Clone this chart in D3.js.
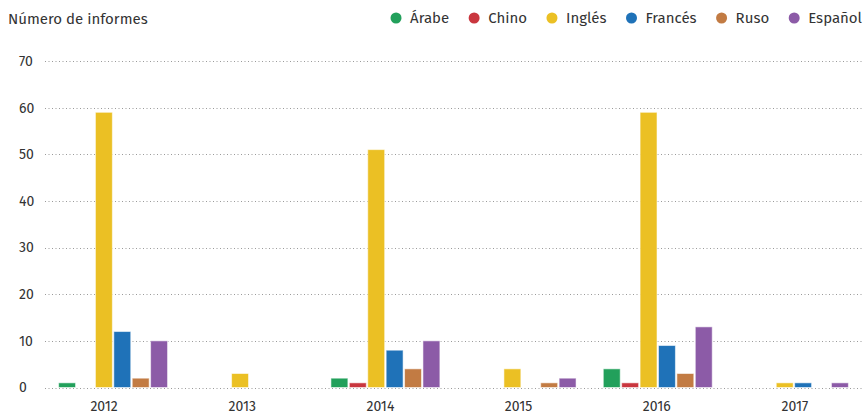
<!DOCTYPE html>
<html>
<head>
<meta charset="utf-8">
<title>Número de informes</title>
<script src="https://cdn.jsdelivr.net/npm/d3@7"></script>
<style>
  body { margin: 0; background: #fff; }
  text { font-family: "Fira Sans", "Open Sans", sans-serif; fill: #333; }
</style>
</head>
<body>
<div id="chart"></div>
<script>
  // data
  var years = ["2012", "2013", "2014", "2015", "2016", "2017"];
  var languages = ["Árabe", "Chino", "Inglés", "Francés", "Ruso", "Español"];
  var colors = ["#22a05b", "#c9363e", "#ebc024", "#1f72b8", "#c27b43", "#8c5ba7"];
  var arabe   = [1, 0, 2, 0, 4, 0];
  var chino   = [0, 0, 1, 0, 1, 0];
  var ingles  = [59, 3, 51, 4, 59, 1];
  var frances = [12, 0, 8, 0, 9, 1];
  var ruso    = [2, 0, 4, 1, 3, 0];
  var espanol = [10, 0, 10, 2, 13, 1];
  var yTicks = [0, 10, 20, 30, 40, 50, 60, 70];

  var series = [arabe, chino, ingles, frances, ruso, espanol];

  var width = 864, height = 414;

  var svg = d3.select("#chart")
    .append("svg")
      .attr("width", width)
      .attr("height", height);

  // scales
  var y = d3.scaleLinear()
    .domain([0, 70])
    .range([387.5, 61]);

  var x0 = d3.scaleBand()
    .domain(years)
    .range([45, 862])
    .paddingInner(0.2)
    .paddingOuter(0.1);

  var x1 = d3.scaleBand()
    .domain(languages)
    .range([0, x0.bandwidth()])
    .paddingInner(0.08);

  // year labels sit on their own slightly wider band
  var xLab = d3.scaleBand()
    .domain(years)
    .range([35, 864]);

  // grid lines
  svg.append("g")
    .selectAll("line")
    .data(yTicks)
    .enter()
    .append("line")
      .attr("x1", 45)
      .attr("x2", width)
      .attr("y1", function(d) { return Math.round(y(d)) + 0.5; })
      .attr("y2", function(d) { return Math.round(y(d)) + 0.5; })
      .style("stroke", "#9a9a9a")
      .style("stroke-width", 1)
      .style("stroke-dasharray", "1,2.5");

  // y labels
  svg.append("g")
    .selectAll("text")
    .data(yTicks)
    .enter()
    .append("text")
      .attr("x", 19)
      .attr("y", function(d) { return y(d); })
      .attr("dy", "0.35em")
      .style("font-size", "14px")
      .text(function(d) { return d; });

  // x labels
  svg.append("g")
    .attr("transform", "translate(0,411)")
    .call(d3.axisBottom(xLab).tickSize(0).tickPadding(0))
    .call(function(g) { g.select(".domain").remove(); })
    .selectAll("text")
      .attr("y", 0)
      .attr("dy", 0)
      .style("font-size", "14px")
      .style("font-family", "'Fira Sans', 'Open Sans', sans-serif")
      .style("fill", "#333");

  // bars
  var rows = [];
  years.forEach(function(yr, i) {
    languages.forEach(function(lang, j) {
      rows.push({year: yr, lang: lang, value: series[j][i], color: colors[j]});
    });
  });

  svg.append("g")
    .selectAll("rect")
    .data(rows.filter(function(d) { return d.value > 0; }))
    .enter()
    .append("rect")
      .attr("x", function(d) { return x0(d.year) + x1(d.lang); })
      .attr("y", function(d) { return y(d.value); })
      .attr("width", x1.bandwidth())
      .attr("height", function(d) { return y(0) - y(d.value); })
      .style("fill", function(d) { return d.color; })
      .style("stroke", "#fff")
      .style("stroke-opacity", 0.55)
      .style("stroke-width", 1);

  // title
  svg.append("text")
    .attr("x", 8)
    .attr("y", 24)
    .style("font-size", "15px")
    .text("Número de informes");

  // legend, laid out from the right edge
  var legend = svg.append("g");
  var items = legend.selectAll("g")
    .data(languages)
    .enter()
    .append("g");

  items.append("circle")
    .attr("r", 5.5)
    .attr("cy", 18)
    .style("fill", function(d, i) { return colors[i]; });

  items.append("text")
    .attr("x", 14)
    .attr("y", 18)
    .attr("dy", "0.35em")
    .style("font-size", "15px")
    .text(function(d) { return d; });

  var widths = [];
  items.each(function() {
    widths.push(d3.select(this).select("text").node().getComputedTextLength());
  });
  var cursor = 862;
  var pos = [];
  for (var k = languages.length - 1; k >= 0; k--) {
    var cx = cursor - widths[k] - 14;
    pos[k] = cx;
    cursor = cx - 25;
  }
  items.attr("transform", function(d, i) { return "translate(" + pos[i] + ",0)"; });
</script>
</body>
</html>
